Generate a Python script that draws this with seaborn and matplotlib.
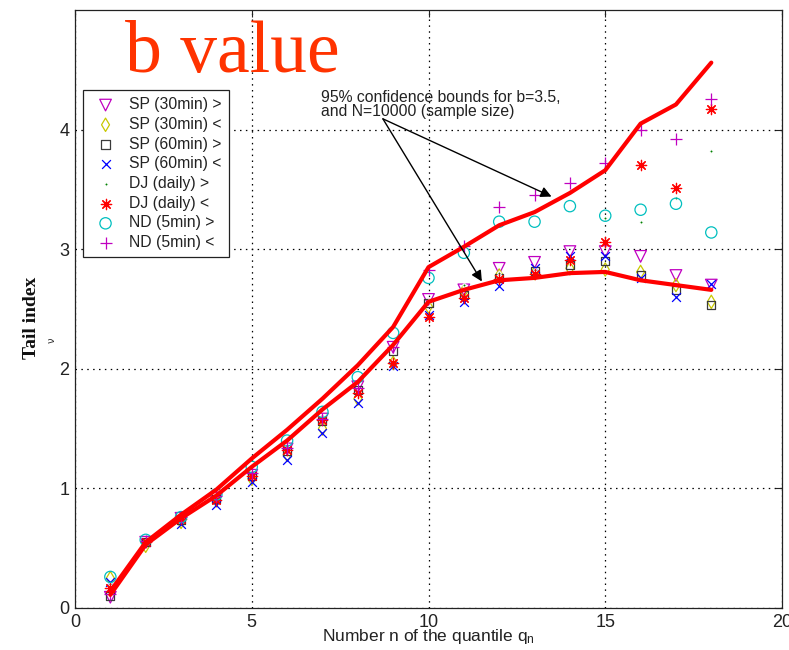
import numpy as np
import pandas as pd
import matplotlib
matplotlib.use("Agg")
import matplotlib.pyplot as plt
import seaborn as sns

# ---------------- data ----------------
n = list(range(1, 19))

upper_bound = [0.14, 0.55, 0.78, 0.99, 1.25, 1.49, 1.75, 2.03, 2.35, 2.85,
               3.02, 3.20, 3.31, 3.47, 3.66, 4.05, 4.21, 4.56]
lower_bound = [0.11, 0.53, 0.75, 0.94, 1.18, 1.40, 1.66, 1.89, 2.20, 2.56,
               2.66, 2.74, 2.76, 2.80, 2.81, 2.74, 2.70, 2.66]

sp30_gt = [0.09, 0.55, 0.75, 0.92, 1.11, 1.33, 1.58, 1.85, 2.18, 2.58,
           2.66, 2.84, 2.89, 2.98, 2.98, 2.94, 2.78, 2.70]
sp30_lt = [0.25, 0.52, 0.72, 0.90, 1.08, 1.28, 1.50, 1.75, 2.05, 2.52,
           2.65, 2.78, 2.80, 2.84, 2.83, 2.81, 2.70, 2.56]
sp60_gt = [0.10, 0.55, 0.74, 0.91, 1.10, 1.31, 1.56, 1.82, 2.15, 2.55,
           2.62, 2.76, 2.82, 2.87, 2.90, 2.78, 2.66, 2.53]
sp60_lt = [0.22, 0.55, 0.70, 0.86, 1.05, 1.24, 1.46, 1.71, 2.02, 2.45,
           2.56, 2.69, 2.84, 2.94, 2.94, 2.76, 2.60, 2.71]
dj_gt = [0.20, 0.56, 0.76, 0.93, 1.14, 1.36, 1.60, 1.88, 2.20, 2.57,
         2.70, 2.80, 2.83, 2.90, 3.26, 3.23, 3.43, 3.82]
dj_lt = [0.17, 0.55, 0.74, 0.90, 1.10, 1.32, 1.57, 1.80, 2.05, 2.43,
         2.59, 2.75, 2.79, 2.91, 3.06, 3.70, 3.51, 4.17]
nd_gt = [0.26, 0.57, 0.76, 0.95, 1.18, 1.40, 1.64, 1.93, 2.30, 2.76,
         2.97, 3.23, 3.23, 3.36, 3.28, 3.33, 3.38, 3.14]
nd_lt = [0.12, 0.56, 0.76, 0.94, 1.13, 1.34, 1.58, 1.84, 2.18, 2.83,
         3.03, 3.35, 3.45, 3.55, 3.72, 4.00, 3.92, 4.26]

series_labels = ["SP (30min) >", "SP (30min) <", "SP (60min) >", "SP (60min) <",
                 "DJ (daily) >", "DJ (daily) <", "ND (5min) >", "ND (5min) <"]
series_values = [sp30_gt, sp30_lt, sp60_gt, sp60_lt, dj_gt, dj_lt, nd_gt, nd_lt]

x_ticks = [0, 5, 10, 15, 20]
y_ticks = [0, 1, 2, 3, 4]

title_text = "b value"
annot_text = "95% confidence bounds for b=3.5,\nand N=10000 (sample size)"

# ---------------- style ----------------
sns.set_theme(style="white")
plt.rcParams["font.family"] = ["Liberation Sans", "DejaVu Sans"]
plt.rcParams["mathtext.fontset"] = "custom"
plt.rcParams["mathtext.rm"] = "Liberation Sans"
plt.rcParams["mathtext.it"] = "Liberation Sans"

styles = [
    dict(marker="v", s=70, color="#C000C0", filled=True),
    dict(marker="d", s=46, color="#C8C800", filled=True),
    dict(marker="s", s=34, color="#3a3a3a", filled=True),
    dict(marker="x", s=40, color="#0000FF", filled=False),
    dict(marker=".", s=22, color="#008000", filled=False),
    dict(marker=(8, 2, 0), s=55, color="#FF0000", filled=False),
    dict(marker="o", s=66, color="#00BFBF", filled=True),
    dict(marker="+", s=80, color="#C000C0", filled=False),
]

fig = plt.figure(figsize=(7.89, 6.5), dpi=100)
ax = fig.add_axes([75 / 789, 42 / 650, 707 / 789, 598 / 650])

handles = []
for lab, vals, st in zip(series_labels, series_values, styles):
    df = pd.DataFrame({"n": n, "v": vals})
    kw = dict(marker=st["marker"], s=st["s"], linewidth=0.9, label=lab, zorder=3)
    if st["filled"]:
        kw.update(facecolors="none", edgecolor=st["color"], color=st["color"])
    else:
        kw.update(color=st["color"])
    sns.scatterplot(data=df, x="n", y="v", ax=ax, legend=False, **kw)
    handles.append(ax.collections[-1])

bounds = pd.DataFrame({"n": n, "upper": upper_bound, "lower": lower_bound})
sns.lineplot(data=bounds, x="n", y="upper", ax=ax, color="#FF0000", lw=3,
             zorder=4, legend=False, solid_joinstyle="round")
sns.lineplot(data=bounds, x="n", y="lower", ax=ax, color="#FF0000", lw=3,
             zorder=4, legend=False, solid_joinstyle="round")

ax.set_xlim(0, 20)
ax.set_ylim(0, 5)
ax.set_xticks(x_ticks)
ax.set_yticks(y_ticks)
ax.set_xticklabels([str(t) for t in x_ticks])
ax.set_yticklabels([str(t) for t in y_ticks])
ax.tick_params(direction="in", top=True, right=True, length=5, width=0.8,
               labelsize=13, pad=4, colors="#222222")
for sp in ax.spines.values():
    sp.set_color("#222222")
    sp.set_linewidth(0.9)
    sp.set_visible(True)

ax.grid(True, color="black", linestyle=(0, (1.2, 3.5)), linewidth=0.9)
ax.set_axisbelow(True)

ax.set_xlabel("Number n of the quantile q$_\\mathregular{n}$", fontsize=12.5,
              color="#222222")
ax.xaxis.set_label_coords(0.5, -0.032)
ax.set_ylabel("Tail index", fontsize=14, fontweight="bold",
              family=["Liberation Serif", "DejaVu Serif"], color="#111111")
ax.yaxis.set_label_coords(-0.05, 0.485)
ax.text(-0.033, 0.448, "ν", transform=ax.transAxes, rotation=90, fontsize=7,
        color="#333333", ha="center", va="center", family=["DejaVu Sans"])

ax.text(1.41, 4.48, title_text, fontsize=53, color="#FF3300",
        family=["Liberation Serif", "DejaVu Serif"], va="baseline", ha="left",
        zorder=5)

ax.text(6.96, 4.33, annot_text, fontsize=11.3, va="top", ha="left",
        linespacing=0.88, color="#222222", zorder=5)
ax.annotate("", xy=(13.48, 3.44), xytext=(8.71, 4.09),
            arrowprops=dict(arrowstyle="-|>", color="black", lw=1,
                            mutation_scale=16, shrinkA=0, shrinkB=0), zorder=5)
ax.annotate("", xy=(11.51, 2.73), xytext=(8.71, 4.09),
            arrowprops=dict(arrowstyle="-|>", color="black", lw=1,
                            mutation_scale=16, shrinkA=0, shrinkB=0), zorder=5)

leg = ax.legend(handles=handles, labels=series_labels, loc="upper left",
                bbox_to_anchor=(0.011, 0.866), borderaxespad=0, fontsize=11.3,
                labelspacing=0.3, handletextpad=0.5, handlelength=2.0,
                fancybox=False, framealpha=1, edgecolor="#222222",
                borderpad=0.45)
leg.get_frame().set_linewidth(0.9)
leg.set_zorder(6)
for t in leg.get_texts():
    t.set_color("#222222")

fig.savefig("out.png", dpi=100)
